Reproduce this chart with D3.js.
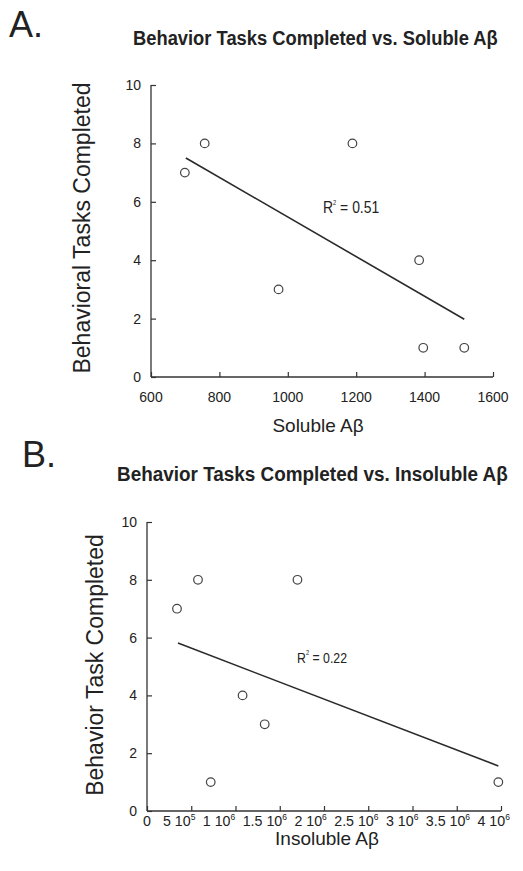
<!DOCTYPE html>
<html>
<head>
<meta charset="utf-8">
<script src="https://cdn.jsdelivr.net/npm/d3@7"></script>
<style>
  body { margin: 0; background: #fff; }
  svg { display: block; }
  text { fill: #222; font-family: "Liberation Sans", Arial, sans-serif; }
</style>
</head>
<body>
<svg></svg>
<script>
const size = {w: 523, h: 871};

// panel A: soluble Abeta
const solubleX = [699, 757, 973, 1189, 1384, 1396, 1516];
const solubleY = [7, 8, 3, 8, 4, 1, 1];
const solubleFit = [[702, 7.5], [1516, 1.98]];
const solubleTicks = [600, 800, 1000, 1200, 1400, 1600];

// panel B: insoluble Abeta
const insolubleX = [339000, 576000, 720000, 1080000, 1330000, 1700000, 3970000];
const insolubleY = [7, 8, 1, 4, 3, 8, 1];
const insolubleFit = [[350000, 5.81], [3970000, 1.56]];
const insolubleTicks = [0, 500000, 1000000, 1500000, 2000000, 2500000, 3000000, 3500000, 4000000];
const insolubleTickLabels = [["0", ""], ["5 10", "5"], ["1 10", "6"], ["1.5 10", "6"], ["2 10", "6"],
  ["2.5 10", "6"], ["3 10", "6"], ["3.5 10", "6"], ["4 10", "6"]];

const yTicks = [0, 2, 4, 6, 8, 10];

const svg = d3.select('svg')
    .attr('width', size.w)
    .attr('height', size.h);

function drawPanel(opt) {
    const g = svg.append('g');
    const x = d3.scaleLinear().domain(opt.xDomain).range(opt.xRange);
    const y = d3.scaleLinear().domain([0, 10]).range(opt.yRange);

    // panel letter and title (title squeezed, the original uses a narrow face)
    g.append('text')
        .attr('x', opt.letterPos[0]).attr('y', opt.letterPos[1])
        .attr('font-size', 36)
        .text(opt.letter);
    const title = g.append('text')
        .attr('font-size', 21).attr('font-weight', 'bold')
        .text(opt.title);
    const tw = title.node().getComputedTextLength();
    const tsx = (opt.titleSpan[1] - opt.titleSpan[0]) / tw;
    title.attr('transform', `translate(${opt.titleSpan[0]},${opt.titleY}) scale(${tsx},1)`);

    // axes, ticks pointing inwards
    const xAxis = d3.axisBottom(x).tickValues(opt.xTicks).tickSize(-5).tickFormat('');
    const yAxis = d3.axisLeft(y).tickValues(yTicks).tickSize(-5).tickFormat('');
    const xg = g.append('g').attr('transform', `translate(0,${opt.yRange[0]})`).call(xAxis);
    const yg = g.append('g').attr('transform', `translate(${opt.xRange[0]},0)`).call(yAxis);
    [xg, yg].forEach(a => {
        a.select('.domain').attr('stroke', '#333').attr('stroke-width', 1.3);
        a.selectAll('.tick line').attr('stroke', '#333').attr('stroke-width', 1.2);
    });
    xg.select('.domain').attr('d', `M${opt.xRange[0]},0H${opt.xRange[1]}`);
    yg.select('.domain').attr('d', `M0,${opt.yRange[0]}V${opt.yRange[1]}`);

    // y tick labels
    g.selectAll('.ylab').data(yTicks).enter().append('text')
        .attr('x', opt.xRange[0] - 10).attr('y', d => y(d) + 5)
        .attr('text-anchor', 'end').attr('font-size', 14).attr('fill', '#333')
        .text(d => d);

    // x tick labels
    const ly = opt.yRange[0] + opt.xLabOffset;
    if (!opt.xTickLabels) {
        g.selectAll('.xlab').data(opt.xTicks).enter().append('text')
            .attr('x', d => x(d)).attr('y', ly)
            .attr('text-anchor', 'middle').attr('font-size', 14).attr('fill', '#333')
            .text(d => d);
    } else {
        // condensed labels packed along the axis like in the original figure
        const sx = 0.95;
        const labs = opt.xTickLabels.map(lab => {
            const t = g.append('text').attr('font-size', 15).attr('fill', '#333');
            t.append('tspan').text(lab[0]);
            if (lab[1]) t.append('tspan').attr('dy', -6).attr('font-size', 9).text(lab[1]);
            return {t, w: t.node().getComputedTextLength() * sx};
        });
        labs[0].t.attr('transform', `translate(${x(opt.xTicks[0]) - labs[0].w / 2},${ly}) scale(${sx},1)`);
        const rest = labs.slice(1);
        const total = d3.sum(rest, d => d.w);
        const gap = (opt.packEnd - opt.packStart - total) / (rest.length - 1);
        let cx = opt.packStart;
        rest.forEach(d => {
            d.t.attr('transform', `translate(${cx},${ly}) scale(${sx},1)`);
            cx += d.w + gap;
        });
    }

    // axis titles
    g.append('text')
        .attr('x', opt.xTitlePos[0]).attr('y', opt.xTitlePos[1])
        .attr('text-anchor', 'middle').attr('font-size', 19)
        .text(opt.xTitle);
    g.append('text')
        .attr('transform', `translate(${opt.yTitlePos[0]},${opt.yTitlePos[1]}) rotate(-90)`)
        .attr('text-anchor', 'middle').attr('font-size', opt.yTitleSize)
        .text(opt.yTitle);

    // fit line
    g.append('line')
        .attr('x1', x(opt.fit[0][0])).attr('y1', y(opt.fit[0][1]))
        .attr('x2', x(opt.fit[1][0])).attr('y2', y(opt.fit[1][1]))
        .attr('stroke', '#2a2a2a').attr('stroke-width', 1.6);

    // points
    g.selectAll('circle').data(opt.xs).enter().append('circle')
        .attr('cx', d => x(d)).attr('cy', (d, i) => y(opt.ys[i]))
        .attr('r', 4.3)
        .attr('fill', 'none').attr('stroke', '#444').attr('stroke-width', 1.2);

    // R squared
    const r = g.append('text')
        .attr('transform', `translate(${opt.rPos[0]},${opt.rPos[1]}) scale(0.82,1)`)
        .attr('font-size', opt.rSize);
    r.append('tspan').text('R');
    r.append('tspan').attr('dy', -8).attr('font-size', 7).text('2');
    r.append('tspan').attr('dy', 8).text(' = ' + opt.r2);
}

drawPanel({
    letter: 'A.', letterPos: [9, 37],
    title: 'Behavior Tasks Completed vs. Soluble A\u03b2', titleSpan: [133, 498], titleY: 45,
    xDomain: [600, 1600], xRange: [151, 493], yRange: [377, 85],
    xTicks: solubleTicks, xLabOffset: 25,
    xTitle: 'Soluble A\u03b2', xTitlePos: [318, 432],
    yTitle: 'Behavioral Tasks Completed', yTitlePos: [90, 228], yTitleSize: 23,
    xs: solubleX, ys: solubleY, fit: solubleFit,
    r2: '0.51', rPos: [323, 213], rSize: 17
});

drawPanel({
    letter: 'B.', letterPos: [22, 467],
    title: 'Behavior Tasks Completed vs. Insoluble A\u03b2', titleSpan: [117, 508], titleY: 481,
    xDomain: [0, 4000000], xRange: [147, 501], yRange: [811, 522],
    xTicks: insolubleTicks, xTickLabels: insolubleTickLabels, xLabOffset: 15,
    packStart: 163, packEnd: 510,
    xTitle: 'Insoluble A\u03b2', xTitlePos: [327, 845],
    yTitle: 'Behavior Task Completed', yTitlePos: [103, 665], yTitleSize: 23,
    xs: insolubleX, ys: insolubleY, fit: insolubleFit,
    r2: '0.22', rPos: [297, 663], rSize: 15
});
</script>
</body>
</html>
